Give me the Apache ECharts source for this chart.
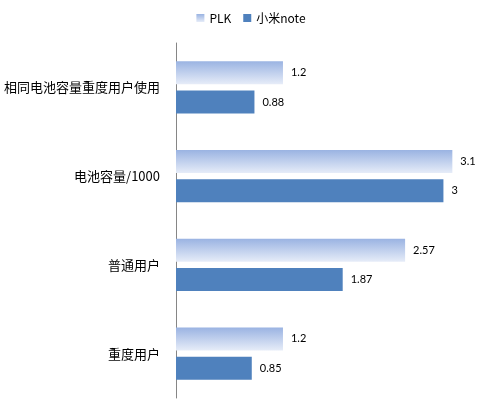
<!DOCTYPE html>
<html>
<head>
    <meta charset="utf-8"/>
    <title>PLK vs 小米note</title>
    <script type="text/javascript" src="https://cdn.jsdelivr.net/npm/echarts@6/dist/echarts.min.js"></script>
    <style>
        html, body {
            margin: 0;
            padding: 0;
            background: #fff;
        }

        #chart {
            width: 502px;
            height: 405px;
        }
    </style>
</head>
<body>
<div id="chart"></div>
<script type="text/javascript">
    // categories listed top to bottom
    let categories = ['相同电池容量重度用户使用', '电池容量/1000', '普通用户', '重度用户'];
    let seriesNames = ['PLK', '小米note'];
    let plkValues = [1.2, 3.1, 2.57, 1.2];
    let miValues = [0.88, 3, 1.87, 0.85];

    let chart = echarts.init(document.getElementById('chart'));

    let plkColor = new echarts.graphic.LinearGradient(0, 0, 0, 1, [
        {offset: 0, color: '#9ab3e2'},
        {offset: 1, color: '#e6ecf8'}
    ]);

    let label = {
        show: true,
        position: 'right',
        distance: 8,
        color: '#000',
        fontSize: 11,
        fontFamily: 'Lato'
    };

    chart.setOption({
        animation: false,
        legend: {
            top: 7,
            left: 'center',
            itemWidth: 8,
            itemHeight: 8,
            itemGap: 12,
            icon: 'rect',
            textStyle: {
                fontSize: 12,
                color: '#000',
                fontFamily: 'Noto Sans CJK SC'
            },
            data: seriesNames
        },
        grid: {
            left: 176,
            right: 14,
            top: 43,
            bottom: 7
        },
        xAxis: {
            type: 'value',
            min: 0,
            max: 3.5,
            show: false
        },
        yAxis: {
            type: 'category',
            inverse: true,
            data: categories,
            axisLine: {lineStyle: {color: '#868686', width: 1}},
            axisTick: {show: false},
            axisLabel: {
                margin: 16,
                fontSize: 13,
                color: '#000',
                fontFamily: 'Noto Sans CJK SC'
            }
        },
        series: [
            {
                name: seriesNames[0],
                type: 'bar',
                data: plkValues,
                barWidth: 23,
                barGap: '28%',
                itemStyle: {color: plkColor},
                label: label
            },
            {
                name: seriesNames[1],
                type: 'bar',
                data: miValues,
                barWidth: 23,
                barGap: '28%',
                itemStyle: {color: '#4f81bd'},
                label: label
            }
        ]
    });
</script>
</body>
</html>
